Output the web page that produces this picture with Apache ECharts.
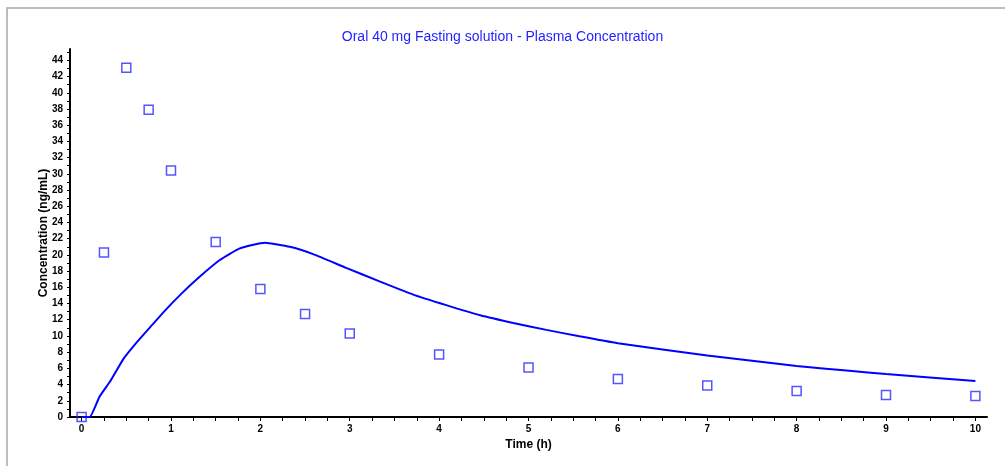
<!DOCTYPE html>
<html>
<head>
<meta charset="utf-8">
<title>Plasma Concentration</title>
<script src="https://cdn.jsdelivr.net/npm/echarts@6/dist/echarts.min.js"></script>
<style>
  html, body { margin: 0; padding: 0; background: #fff; }
  #chart { width: 1005px; height: 466px; }
</style>
</head>
<body>
<div id="chart"></div>
<script>
// observed plasma concentrations (squares)
var obsTime = [0, 0.25, 0.5, 0.75, 1, 1.5, 2, 2.5, 3, 4, 5, 6, 7, 8, 9, 10];
var obsConc = [0, 20.3, 43.1, 37.9, 30.4, 21.6, 15.8, 12.7, 10.3, 7.7, 6.1, 4.7, 3.9, 3.2, 2.7, 2.6];

// predicted curve
var predTime = [0, 0.09, 0.2, 0.32, 0.47, 0.6, 0.76, 0.93, 1.12, 1.32, 1.55, 1.77, 2.05, 2.33, 2.59, 2.96, 3.34, 3.71, 4.08, 4.46, 4.83, 5.2, 5.57, 6, 7, 8, 8.59, 9, 10];
var predConc = [0, 0, 2.5, 4.4, 7.2, 9.0, 11.0, 13.1, 15.25, 17.3, 19.4, 20.8, 21.5, 21.0, 20.1, 18.4, 16.7, 15.1, 13.8, 12.55, 11.6, 10.75, 9.95, 9.1, 7.6, 6.3, 5.7, 5.3, 4.45];

var xLabels = [0, 1, 2, 3, 4, 5, 6, 7, 8, 9, 10];
var yLabels = [0, 2, 4, 6, 8, 10, 12, 14, 16, 18, 20, 22, 24, 26, 28, 30, 32, 34, 36, 38, 40, 42, 44];

var xTicks = [];
for (var i = 0; i <= 40; i++) xTicks.push(i * 0.25);
var yTicks = [];
for (var j = 0; j <= 45; j++) yTicks.push(j);

var font = "'Liberation Sans', Arial, sans-serif";

var myChart = echarts.init(document.getElementById("chart"));
var option = {
  animation: false,
  title: {
    text: "Oral 40 mg Fasting solution - Plasma Concentration",
    left: "center",
    top: 25,
    textStyle: { color: "#1f1fff", fontSize: 14, fontWeight: "normal", fontFamily: font }
  },
  graphic: [
    {
      type: "rect",
      shape: { x: 7, y: 8, width: 1010, height: 470 },
      style: { fill: "none", stroke: "#a8a8a8", lineWidth: 1.5 },
      silent: true
    }
  ],
  grid: { left: 70, right: 18, top: 49, bottom: 49 },
  xAxis: {
    type: "value",
    min: -0.13,
    max: 10.13,
    name: "Time (h)",
    nameLocation: "middle",
    nameGap: 21,
    nameTextStyle: { color: "#000", fontSize: 12, fontWeight: "bold", fontFamily: font },
    axisLine: { onZero: false, lineStyle: { color: "#000", width: 2 } },
    axisTick: { customValues: xTicks, length: 4, lineStyle: { color: "#000" } },
    axisLabel: { customValues: xLabels, color: "#000", fontSize: 10, fontWeight: "bold", fontFamily: font, margin: 7 },
    splitLine: { show: false }
  },
  yAxis: {
    type: "value",
    min: 0,
    max: 45.4,
    name: "Concentration (ng/mL)",
    nameLocation: "middle",
    nameGap: 20,
    nameMoveOverlap: false,
    nameTextStyle: { color: "#000", fontSize: 12, fontWeight: "bold", fontFamily: font },
    axisLine: { show: true, onZero: false, lineStyle: { color: "#000", width: 2 } },
    axisTick: { show: true, customValues: yTicks, length: 3, lineStyle: { color: "#000" } },
    axisLabel: { customValues: yLabels, color: "#000", fontSize: 10, fontWeight: "bold", fontFamily: font, margin: 7 },
    splitLine: { show: false }
  },
  series: [
    {
      name: "Predicted",
      type: "line",
      data: predTime.map(function (t, k) { return [t, predConc[k]]; }),
      smooth: 0.15,
      showSymbol: false,
      lineStyle: { color: "#0000ff", width: 2 },
      itemStyle: { color: "#0000ff" }
    },
    {
      name: "Observed",
      type: "scatter",
      data: obsTime.map(function (t, k) { return [t, obsConc[k]]; }),
      symbol: "rect",
      symbolSize: 9,
      clip: false,
      itemStyle: { color: "transparent", borderColor: "#2a2aff", borderWidth: 1.5 }
    }
  ]
};
myChart.setOption(option);
</script>
</body>
</html>
